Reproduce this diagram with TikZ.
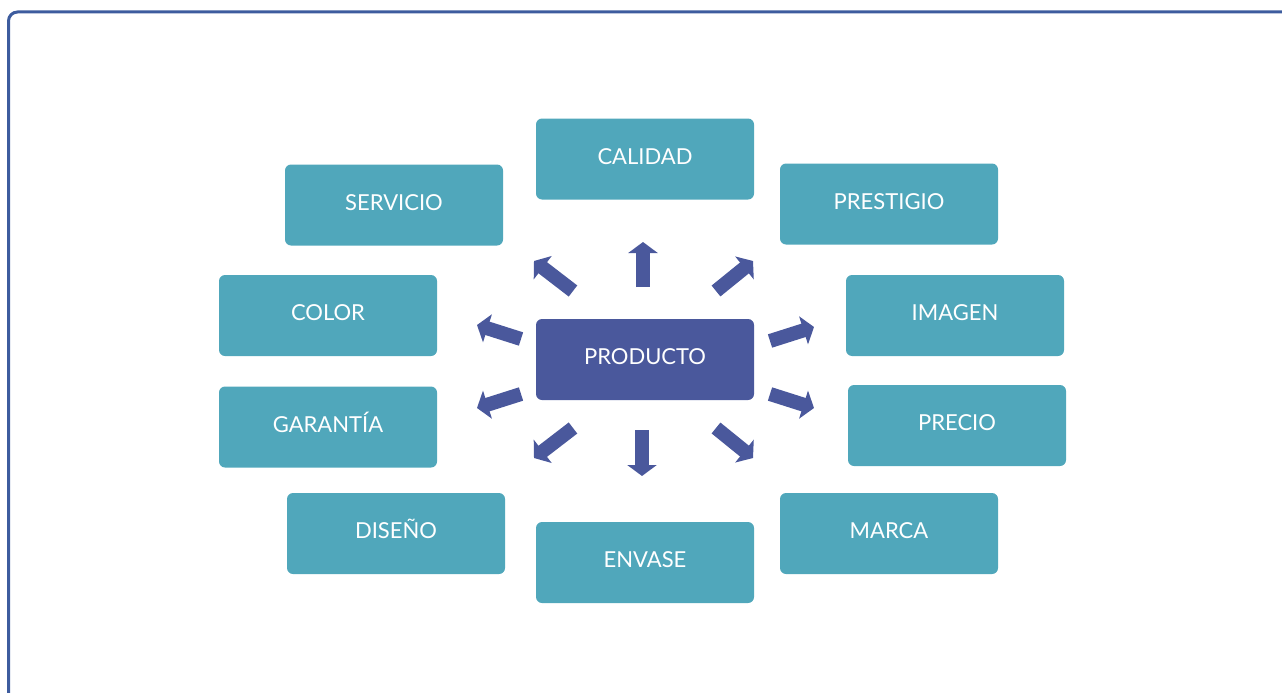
\documentclass[tikz,border=0pt]{standalone}
\usepackage{fontspec}
\setmainfont{Lato}
\usetikzlibrary{arrows.meta}
\definecolor{teal}{HTML}{50A7BB}
\definecolor{prod}{HTML}{4A589C}
\definecolor{frame}{HTML}{3D5C9E}
\tikzset{
  box/.style={draw=none, fill=teal, rounded corners=6pt, minimum width=218pt, minimum height=81pt,
    inner sep=0pt, text=white, font=\fontsize{22}{22}\selectfont, text height=16pt, text depth=6pt},
  center box/.style={box, fill=prod},
  blockarrow/.style={draw=prod, line width=14pt, -{Triangle[length=11pt, width=29pt, fill=prod]}}
}
\begin{document}
\begin{tikzpicture}[x=1pt, y=-1pt]
\useasboundingbox (0,0) rectangle (1282,693);
\clip (0,0) rectangle (1282,693);
\draw[frame, line width=3pt, rounded corners=9pt] (8.5,12) rectangle (1300,720);
\node[box] (calidad) at (645,159) {CALIDAD};
\node[box] (servicio) at (394,205) {SERVICIO};
\node[box] (prestigio) at (889,204) {PRESTIGIO};
\node[box] (color) at (328,315.5) {COLOR};
\node[box] (imagen) at (955,315.5) {IMAGEN};
\node[center box] (producto) at (645,359.5) {PRODUCTO};
\node[box] (garantia) at (328,427) {GARANTÍA};
\node[box] (precio) at (957,425.5) {PRECIO};
\node[box] (diseno) at (396,533.5) {DISEÑO};
\node[box] (marca) at (889,533.5) {MARCA};
\node[box] (envase) at (645,562.5) {ENVASE};
% arrow coordinates
\coordinate (nS) at (643,287); \coordinate (nE) at (643,242);
\coordinate (sS) at (642,430); \coordinate (sE) at (642,476);
\coordinate (nwS) at (573,291); \coordinate (nwE) at (534,261);
\coordinate (neS) at (716,291); \coordinate (neE) at (753,261);
\coordinate (wuS) at (521,339); \coordinate (wuE) at (477,325);
\coordinate (euS) at (770,341); \coordinate (euE) at (814,327);
\coordinate (wlS) at (521,394); \coordinate (wlE) at (477,408);
\coordinate (elS) at (770,394); \coordinate (elE) at (814,408);
\coordinate (swS) at (573,428); \coordinate (swE) at (534,458);
\coordinate (seS) at (716,428); \coordinate (seE) at (753,458);
\foreach \a in {n,s,nw,ne,wu,eu,wl,el,sw,se}
  \draw[blockarrow] (\a S) -- (\a E);
\end{tikzpicture}
\end{document}
